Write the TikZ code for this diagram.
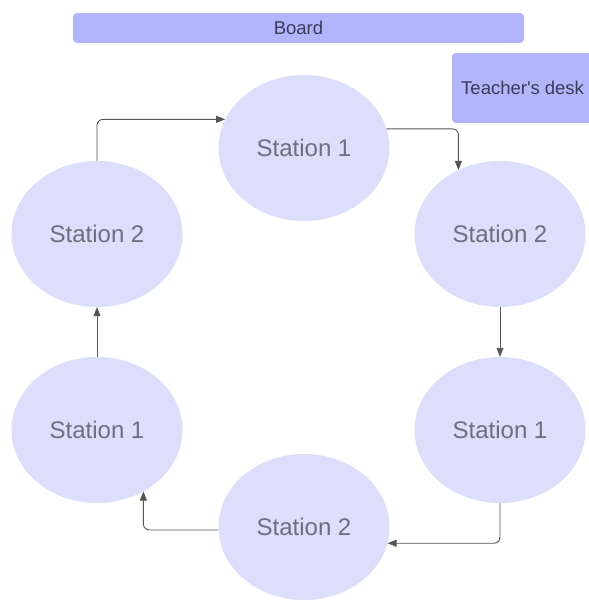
\documentclass[tikz,border=0pt]{standalone}
\usepackage{fontspec}
\setmainfont{Liberation Sans}
\newfontfamily\deskfont{Liberation Sans}[Ligatures=TeXOff]
\usetikzlibrary{shapes.geometric,arrows.meta}
\definecolor{boardfill}{HTML}{B3B5FA}
\definecolor{stationfill}{HTML}{DDDDFC}
\definecolor{darktext}{HTML}{3A3A5C}
\definecolor{stationtext}{HTML}{6E6E80}
\definecolor{connc}{HTML}{555555}
\tikzset{
  station/.style={ellipse, fill=stationfill, draw=none, minimum width=171pt, minimum height=146pt, inner sep=0pt, text=stationtext, font=\fontsize{24}{28}\selectfont},
  boardbox/.style={fill=boardfill, draw=none, rounded corners=4pt, text=darktext, font=\fontsize{18.5}{22}\selectfont},
  conn/.style={draw=connc, line width=0.9pt, rounded corners=6pt, -{Triangle[length=9pt,width=7pt]}}
}
\begin{document}
\begin{tikzpicture}[x=1pt,y=-1pt]
\useasboundingbox (0,0) rectangle (589,600);
\clip (0,0) rectangle (589,600);
\fill[white] (0,0) rectangle (589,600);
% board and desk
\node[boardbox, minimum width=451pt, minimum height=30pt, inner sep=0pt] (board) at (298.5,28) {Board};
\fill[boardfill, rounded corners=4pt] (452,53) rectangle (610,123);
\node[text=darktext, font=\deskfont\fontsize{18.5}{22}\selectfont, anchor=west, inner sep=0pt] (desk) at (461,88) {Teacher's desk};
% stations
\node[station] (ts1) at (304,148) {Station 1};
\node[station] (ls2) at (97,234) {Station 2};
\node[station] (rs2) at (500,234) {Station 2};
\node[station] (ls1) at (97,430) {Station 1};
\node[station] (rs1) at (500,430) {Station 1};
\node[station] (bs2) at (304,527) {Station 2};
% connectors
\draw[conn] (ls2.north) |- (ts1.160);
\draw[conn] (ts1.13) -| (rs2.123.7);
\draw[conn] (rs2.south) -- (rs1.north);
\draw[conn] (rs1.south) |- (bs2.-11.6);
\draw[conn] (bs2.182) -| (ls1.-53.8);
\draw[conn] (ls1.north) -- (ls2.south);
\end{tikzpicture}
\end{document}
